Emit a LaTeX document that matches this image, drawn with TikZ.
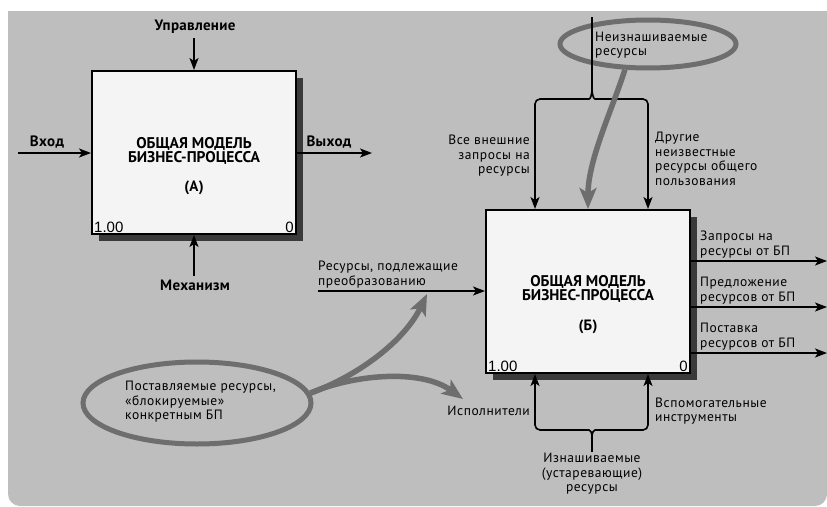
\documentclass[tikz,border=0pt]{standalone}
\usepackage{fontspec}
\setmainfont{PT Sans}
\newfontfamily\numfont{Liberation Sans}
\newfontfamily\lblfont[LetterSpace=4]{PT Sans}
\newfontfamily\blblfont[LetterSpace=2]{PT Sans Bold}
\usetikzlibrary{arrows.meta,shapes.geometric,shadows,calc}
\definecolor{bgc}{HTML}{BEBEBE}
\definecolor{ellc}{HTML}{6E6E6E}
\definecolor{boxc}{HTML}{F4F4F4}
\definecolor{shc}{HTML}{3A3A3A}
\begin{document}
\begin{tikzpicture}[x=1pt,y=-1pt,
  lbl/.style={inner sep=0pt, font=\lblfont\fontsize{13.5}{14.5}\selectfont},
  blbl/.style={inner sep=0pt, font=\blblfont\fontsize{15}{16}\selectfont},
  ttl/.style={inner sep=0pt, text height=10.5pt, text depth=1.5pt, font=\bfseries\fontsize{15.5}{14}\selectfont},
  num/.style={inner sep=0pt, font=\numfont\fontsize{15}{15}\selectfont},
  proc/.style={draw=black, line width=2pt, fill=boxc, minimum width=204pt, minimum height=163pt, inner sep=0pt,
    drop shadow={fill=shc, opacity=1, shadow xshift=7pt, shadow yshift=-7pt}},
  arr/.style={line width=1.6pt, -{Stealth[length=12pt,width=9pt,inset=3pt]}},
  pline/.style={line width=1.6pt},
  gell/.style={ellipse, draw=ellc, line width=5pt, inner sep=0pt},
  garr/.style={line width=5.5pt, draw=ellc, -{Stealth[length=21pt,width=17pt,inset=5pt]}}
]
\useasboundingbox (0,0) rectangle (827,506);
\fill[white] (0,0) rectangle (827,506);
\fill[bgc] (827,11) -- (8,11) [rounded corners=12pt] -- (8,506) -- (827,506) [sharp corners] -- cycle;

% ---------- Box A ----------
\node[proc] (A) at (194,152.5) {};
\node[ttl] (Atitle1) at ($(A.center)+(0,-8.5)$) {ОБЩАЯ МОДЕЛЬ};
\node[ttl] (Atitle2) at ($(A.center)+(0,5.5)$) {БИЗНЕС-ПРОЦЕССА};
\node[blbl] (Aid) at ($(A.center)+(0,35.5)$) {(А)};
\node[num, anchor=south west] (Anum) at ($(A.south west)+(3,-2)$) {1.00};
\node[num, anchor=south east] (Azero) at ($(A.south east)+(-3,-2)$) {0};

\node[blbl] (upr) at (195,27) {Управление};
\node[blbl] (vhod) at (47,142) {Вход};
\node[blbl] (vyhod) at (329,142) {Выход};
\node[blbl] (meh) at (195,285) {Механизм};
\coordinate (uA) at (194,38);
\coordinate (inA) at (18,153);
\coordinate (outA) at (372,153);
\coordinate (mA) at (194,276);
\draw[arr] (uA) -- (A.north);
\draw[arr] (inA) -- (A.west |- inA);
\draw[arr] (A.east |- outA) -- (outA);
\draw[arr] (mA) -- (A.south);

% ---------- Box B ----------
\node[proc] (B) at (588,291.5) {};
\node[ttl] (Btitle1) at ($(B.center)+(0,-10)$) {ОБЩАЯ МОДЕЛЬ};
\node[ttl] (Btitle2) at ($(B.center)+(0,4)$) {БИЗНЕС-ПРОЦЕССА};
\node[blbl] (Bid) at ($(B.center)+(0,35.5)$) {(Б)};
\node[num, anchor=south west] (Bnum) at ($(B.south west)+(3,-2)$) {1.00};
\node[num, anchor=south east] (Bzero) at ($(B.south east)+(-3,-2)$) {0};

% ellipses
\node[gell, minimum width=176pt, minimum height=48pt] (ellT) at (648,44) {};
\node[gell, minimum width=228pt, minimum height=82pt] (ellB) at (197,403) {};

% top brace (non-wearing resources)
\coordinate (topS) at (592,17);
\coordinate (braceT) at (592,88);
\coordinate (bxL) at (535,0);
\coordinate (bxR) at (648,0);
\draw[pline] (topS) -- (braceT);
\draw[arr, rounded corners=5pt] (braceT) .. controls (592,96) and (590,99) .. (584,99) -- (bxL |- 0,99) -- (B.north -| bxL);
\draw[arr, rounded corners=5pt] (braceT) .. controls (592,96) and (594,99) .. (600,99) -- (bxR |- 0,99) -- (B.north -| bxR);

% bottom brace (wearing resources)
\coordinate (botS) at (592,452);
\coordinate (braceB) at (592,437);
\draw[pline] (botS) -- (braceB);
\draw[arr, rounded corners=5pt] (braceB) .. controls (592,432) and (590,430) .. (584,430) -- (bxL |- 0,430) -- (B.south -| bxL);
\draw[arr, rounded corners=5pt] (braceB) .. controls (592,432) and (594,430) .. (600,430) -- (bxR |- 0,430) -- (B.south -| bxR);

% input
\coordinate (inB) at (318,291);
\draw[arr] (inB) -- (B.west |- inB);
\node[lbl, anchor=south west, align=left] (resin) at (318,288) {Ресурсы, подлежащие\\преобразованию};

% outputs
\coordinate (o1) at (827,261);
\coordinate (o2) at (827,307);
\coordinate (o3) at (827,353);
\draw[arr] (B.east |- o1) -- (o1);
\draw[arr] (B.east |- o2) -- (o2);
\draw[arr] (B.east |- o3) -- (o3);
\node[lbl, anchor=south west, align=left] (t1) at (700,258) {Запросы на\\ресурсы от БП};
\node[lbl, anchor=south west, align=left] (t2) at (700,304) {Предложение\\ресурсов от БП};
\node[lbl, anchor=south west, align=left] (t3) at (700,350) {Поставка\\ресурсов от БП};

% top labels
\node[lbl, anchor=east, align=right] (vse) at (530,156) {Все внешние\\запросы на\\ресурсы};
\node[lbl, anchor=west, align=left] (dr) at (655,159) {Другие\\неизвестные\\ресурсы общего\\пользования};
\node[lbl, anchor=west, align=left] (neizn) at (595,45) {Неизнашиваемые\\ресурсы};

% bottom labels
\node[lbl, anchor=east] (isp) at (530,411) {Исполнители};
\node[lbl, anchor=west, align=left] (vsp) at (655,411) {Вспомогательные\\инструменты};
\node[lbl, anchor=north, align=center] (izn) at (592,453) {Изнашиваемые\\(устаревающие)\\ресурсы};
\node[lbl, anchor=west, align=left] (post) at (125,402) {Поставляемые ресурсы,\\«блокируемые»\\конкретным БП};

% gray arrows
\draw[garr] (ellT.228) .. controls (612,110) and (588,160) .. (B.north);
\draw[garr] (ellB.5) .. controls (360,375) and (405,340) .. (427,294);
\draw[garr] (ellB.5) .. controls (352,375) and (420,368) .. (463,399);
\end{tikzpicture}
\end{document}
